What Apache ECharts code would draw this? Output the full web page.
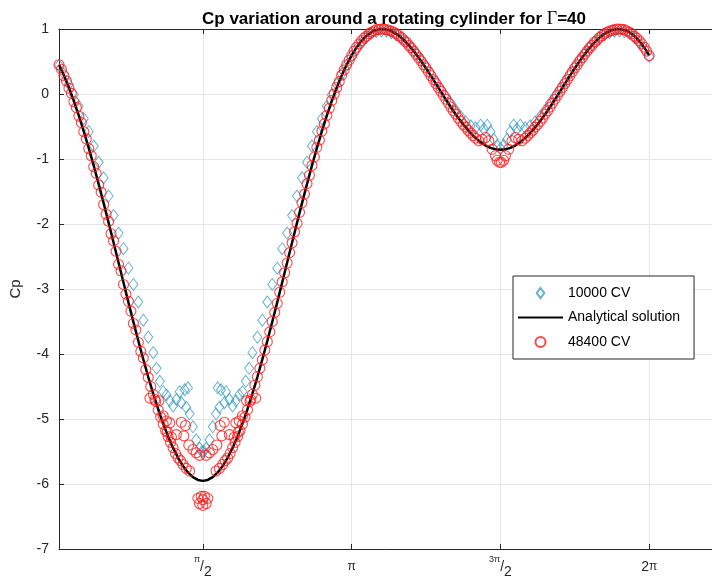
<!DOCTYPE html>
<html><head><meta charset="utf-8">
<script src="https://cdn.jsdelivr.net/npm/echarts@6/dist/echarts.min.js"></script>
<style>html,body{margin:0;padding:0;background:#fff}#c{width:712px;height:584px}</style>
</head><body><div id="c"></div>
<script>
// x values are angles in degrees; ticks are labelled in multiples of pi
const xTickValues = [90, 180, 270, 360];
const xTickLabels = ['{s|π}{n|/}{b|2}', '{p|π}', '{s|3π}{n|/}{b|2}', '{q|2}{p|π}'];

// Analytical solution (theta in degrees, Cp)
const lineTheta = [3,6,9,12,15,18,21,24,27,30,33,36,39,42,45,48,51,54,57,60,63,66,69,72,75,78,81,84,87,90,
93,96,99,102,105,108,111,114,117,120,123,126,129,132,135,138,141,144,147,150,153,156,159,162,165,168,171,174,177,180,
183,186,189,192,195,198,201,204,207,210,213,216,219,222,225,228,231,234,237,240,243,246,249,252,255,258,261,264,267,270,
273,276,279,282,285,288,291,294,297,300,303,306,309,312,315,318,321,324,327,330,333,336,339,342,345,348,351,354,357,360];
const lineCp = [0.4505,0.2849,0.0985,-0.1076,-0.3323,-0.5741,-0.8315,-1.1027,-1.3857,-1.6785,-1.9787,-2.2840,-2.5919,-2.9001,-3.2059,-3.5066,-3.8000,-4.0834,-4.3543,-4.6106,-4.8497,-5.0698,-5.2688,-5.4451,-5.5970,-5.7231,-5.8224,-5.8940,-5.9372,-5.9517,
-5.9372,-5.8940,-5.8224,-5.7231,-5.5970,-5.4451,-5.2688,-5.0698,-4.8497,-4.6106,-4.3543,-4.0834,-3.8000,-3.5066,-3.2059,-2.9001,-2.5919,-2.2840,-1.9787,-1.6785,-1.3857,-1.1027,-0.8315,-0.5741,-0.3323,-0.1076,0.0985,0.2849,0.4505,0.5947,
0.7171,0.8172,0.8952,0.9513,0.9858,0.9997,0.9936,0.9687,0.9264,0.8679,0.7951,0.7095,0.6131,0.5077,0.3953,0.2780,0.1578,0.0368,-0.0831,-0.2000,-0.3120,-0.4173,-0.5143,-0.6015,-0.6777,-0.7406,-0.7923,-0.8291,-0.8514,-0.8589,
-0.8514,-0.8291,-0.7923,-0.7406,-0.6777,-0.6015,-0.5143,-0.4173,-0.3120,-0.2000,-0.0831,0.0368,0.1578,0.2780,0.3953,0.5077,0.6131,0.7095,0.7951,0.8679,0.9264,0.9687,0.9936,0.9997,0.9858,0.9513,0.8952,0.8172,0.7171,0.5947];

// 10000 CV results [theta deg, Cp]
const cv10000 = [
[3,0.44],[6,0.31],[9,0.15],[12,-0.01],[15,-0.19],[18,-0.38],[21,-0.58],[24,-0.80],[27,-1.05],[30,-1.29],
[33,-1.57],[36,-1.87],[39,-2.14],[42,-2.38],[45,-2.68],[48,-2.93],[51,-3.20],[54,-3.48],[57,-3.74],[60,-3.98],
[62,-4.22],[64,-4.42],[66,-4.58],[68,-4.63],[70,-4.72],[72,-4.80],[74,-4.70],[76,-4.58],[77,-4.75],[79,-4.55],
[80,-4.82],[81,-4.52],[82,-4.92],[84,-5.12],[86,-5.32],[88,-5.45],[89.5,-5.50],[90.5,-5.50],[92,-5.45],[94,-5.32],
[96,-5.12],[98,-4.92],[99,-4.52],[100,-4.82],[101,-4.55],[103,-4.75],[104,-4.58],[106,-4.70],[108,-4.80],[110,-4.72],
[112,-4.63],[114,-4.58],[116,-4.42],[118,-4.22],[120,-3.98],[123,-3.74],[126,-3.48],[129,-3.20],[132,-2.93],[135,-2.68],
[138,-2.38],[141,-2.14],[144,-1.87],[147,-1.57],[150,-1.29],[153,-1.05],[156,-0.80],[159,-0.58],[162,-0.38],[165,-0.19],
[168,-0.01],[171,0.15],[174,0.31],[177,0.44],[180,0.58],
[183,0.69],[186,0.79],[189,0.87],[192,0.93],[195,0.96],[198,0.97],[201,0.965],[204,0.945],[207,0.91],[210,0.86],
[213,0.80],[216,0.72],[219,0.63],[222,0.53],[225,0.42],[228,0.31],[231,0.19],[234,0.08],[237,-0.03],[240,-0.14],
[243,-0.25],[246,-0.35],[249,-0.43],[252,-0.49],[255,-0.52],[258,-0.48],[260,-0.54],[262,-0.48],[264,-0.58],[266,-0.70],
[268,-0.79],[270,-0.84],[272,-0.79],[274,-0.70],[276,-0.58],[278,-0.48],[280,-0.54],[282,-0.48],[285,-0.52],[288,-0.49],
[291,-0.43],[294,-0.35],[297,-0.25],[300,-0.14],[303,-0.03],[306,0.08],[309,0.19],[312,0.31],[315,0.42],[318,0.53],
[321,0.63],[324,0.72],[327,0.80],[330,0.86],[333,0.91],[336,0.945],[339,0.965],[342,0.97],[345,0.96],[348,0.93],
[351,0.87],[354,0.79],[357,0.69],[360,0.58]];

// 48400 CV results [theta deg, Cp]
const cv48400 = [
[3,0.45],[4.5,0.38],[6,0.28],[7.5,0.20],[9,0.09],[10.5,0.01],[12,-0.12],[13.5,-0.21],[15,-0.34],[16.5,-0.44],
[18,-0.58],[19.5,-0.69],[21,-0.84],[22.5,-0.95],[24,-1.12],[25.5,-1.22],[27,-1.40],[28.5,-1.51],[30,-1.70],[31.5,-1.85],
[33,-1.96],[34.5,-2.15],[36,-2.26],[37.5,-2.42],[39,-2.62],[40.5,-2.72],[42,-2.93],[43.5,-3.08],[45,-3.19],[46.5,-3.34],
[48,-3.53],[49.5,-3.63],[51,-3.82],[52.5,-3.96],[54,-4.06],[55.5,-4.24],[57,-4.36],[58.5,-4.50],
[60,-4.62],[61.5,-4.73],[63,-4.86],[64.5,-4.97],[66,-5.08],[67.5,-5.18],[69,-5.27],[70.5,-5.36],[72,-5.44],[73.5,-5.53],
[75,-5.60],[76.5,-5.64],[78,-5.70],[80,-5.76],[82,-5.80],
[58,-4.68],[61,-4.70],[63.5,-4.72],[66,-4.95],[68,-5.03],[70,-5.06],[68.5,-5.20],[71,-5.28],[74,-5.24],[77,-5.05],
[79.5,-5.10],[78.5,-5.26],[81.5,-5.40],[84,-5.47],[86,-5.52],[88,-5.56],
[87,-6.22],[89,-6.19],[91,-6.19],[93,-6.22],[88,-6.30],[90,-6.33],[92,-6.30],[90,-6.24],
[92,-5.56],[94,-5.52],[96,-5.47],[98.5,-5.40],[101.5,-5.26],[100.5,-5.10],[103,-5.05],[106,-5.24],[109,-5.28],[111.5,-5.20],
[110,-5.06],[112,-5.03],[114,-4.95],[116.5,-4.72],[119,-4.70],[122,-4.68],
[98,-5.80],[100,-5.76],[102,-5.70],[103.5,-5.64],[105,-5.60],[106.5,-5.53],[108,-5.44],[109.5,-5.36],[111,-5.27],[112.5,-5.18],
[114,-5.08],[115.5,-4.97],[117,-4.86],[118.5,-4.73],[120,-4.62],
[121.5,-4.48],[123,-4.35],[124.5,-4.22],[126,-4.09],[127.5,-3.94],[129,-3.81],[130.5,-3.66],[132,-3.50],[133.5,-3.36],[135,-3.22],
[136.5,-3.05],[138,-2.89],[139.5,-2.75],[141,-2.60],[142.5,-2.44],[144,-2.29],[145.5,-2.12],[147,-1.99],[148.5,-1.82],[150,-1.67],
[151.5,-1.54],[153,-1.38],[154.5,-1.25],[156,-1.10],[157.5,-0.97],[159,-0.82],[160.5,-0.71],[162,-0.57],[163.5,-0.46],[165,-0.33],
[166.5,-0.22],[168,-0.10],[169.5,0.00],[171,0.10],[172.5,0.19],[174,0.29],[175.5,0.37],[177,0.45],
[178.5,0.52],[180,0.59],[181.5,0.66],[183,0.72],[184.5,0.77],[186,0.82],[187.5,0.86],[189,0.89],[190.5,0.93],[192,0.95],
[193.5,0.97],[195,0.99],[196.5,0.995],[198,1.00],[199.5,1.00],[201,0.99],[202.5,0.98],[204,0.97],[205.5,0.95],[207,0.93],
[208.5,0.90],[210,0.87],[211.5,0.83],[213,0.80],[214.5,0.75],[216,0.71],[217.5,0.66],[219,0.61],[220.5,0.56],[222,0.51],
[223.5,0.45],[225,0.40],[226.5,0.34],[228,0.28],[229.5,0.22],[231,0.16],[232.5,0.10],[234,0.04],[235.5,-0.02],[237,-0.08],
[238.5,-0.14],[240,-0.20],[241.5,-0.26],[243,-0.31],[244.5,-0.37],[246,-0.42],[247.5,-0.47],[249,-0.51],[250.5,-0.56],[252,-0.60],
[253.5,-0.64],[255,-0.68],[257,-0.72],[259,-0.70],[261,-0.67],[263,-0.72],[265,-0.85],[267,-0.95],[268,-1.02],[269.5,-1.05],
[270.5,-1.05],[272,-1.02],[273,-0.95],[275,-0.85],[277,-0.72],[279,-0.67],[281,-0.70],[283,-0.72],[285,-0.68],[286.5,-0.64],
[288,-0.60],[289.5,-0.56],[291,-0.51],[292.5,-0.47],[294,-0.42],[295.5,-0.37],[297,-0.31],[298.5,-0.26],[300,-0.20],[301.5,-0.14],
[303,-0.08],[304.5,-0.02],[306,0.04],[307.5,0.10],[309,0.16],[310.5,0.22],[312,0.28],[313.5,0.34],[315,0.40],[316.5,0.45],
[318,0.51],[319.5,0.56],[321,0.61],[322.5,0.66],[324,0.71],[325.5,0.75],[327,0.80],[328.5,0.83],[330,0.87],[331.5,0.90],
[333,0.93],[334.5,0.95],[336,0.97],[337.5,0.98],[339,0.99],[340.5,1.00],[342,1.00],[343.5,0.995],[345,0.99],[346.5,0.97],
[348,0.95],[349.5,0.93],[351,0.89],[352.5,0.86],[354,0.82],[355.5,0.77],[357,0.72],[358.5,0.66],[360,0.59]];

const seriesNames = ['10000 CV', 'Analytical solution', '48400 CV'];

const axisColor = '#262626';
const gridColor = '#e6e6e6';
const fontFam = 'Liberation Sans, Arial, sans-serif';
const diamondPath = 'path://M0,-6 L4.5,0 L0,6 L-4.5,0 Z';

const chart = echarts.init(document.getElementById('c'), null, {renderer: 'canvas'});
const lineData = lineTheta.map((t, i) => [t, lineCp[i]]);

chart.setOption({
  animation: false,
  backgroundColor: '#fff',
  title: {
    text: 'Cp variation around a rotating cylinder for {g|Γ}=40',
    left: 389, top: 5, textAlign: 'center',
    textStyle: {
      fontFamily: fontFam, fontSize: 17, fontWeight: 'bold', color: '#000',
      rich: { g: { fontFamily: 'Liberation Serif, Times New Roman, serif', fontSize: 18, fontWeight: 'normal', color: '#000' } }
    }
  },
  grid: { left: 56, right: 0, top: 29, bottom: 35, containLabel: false },
  legend: {
    orient: 'vertical', left: 513, top: 276,
    data: [
      { name: seriesNames[0], icon: diamondPath },
      { name: seriesNames[1], itemStyle: { color: 'rgba(0,0,0,0)', borderColor: 'rgba(0,0,0,0)', borderWidth: 0 } },
      { name: seriesNames[2] }
    ],
    symbolKeepAspect: true,
    itemWidth: 45, itemHeight: 10, itemGap: 8.5,
    padding: [9, 14, 9, 4],
    borderColor: '#262626', borderWidth: 1, backgroundColor: '#fff',
    textStyle: { fontFamily: fontFam, fontSize: 14, lineHeight: 16, color: '#000' }
  },
  xAxis: [{
    type: 'value', min: 3, max: 398,
    axisLine: { show: true, onZero: false, lineStyle: { color: axisColor, width: 1 } },
    axisTick: { show: true, inside: true, length: 5, customValues: xTickValues, lineStyle: { color: axisColor } },
    axisLabel: {
      customValues: xTickValues, margin: 6, color: axisColor,
      formatter: v => xTickLabels[xTickValues.indexOf(v)] || '',
      rich: {
        s: { fontFamily: fontFam, fontSize: 9, lineHeight: 10, verticalAlign: 'top', color: axisColor },
        n: { fontFamily: fontFam, fontSize: 14, lineHeight: 24, verticalAlign: 'middle', color: axisColor },
        b: { fontFamily: fontFam, fontSize: 14, lineHeight: 12, verticalAlign: 'bottom', color: axisColor },
        p: { fontFamily: fontFam, fontSize: 12, lineHeight: 24, verticalAlign: 'middle', color: axisColor },
        q: { fontFamily: fontFam, fontSize: 14, lineHeight: 24, verticalAlign: 'middle', color: axisColor }
      }
    },
    splitLine: { show: true, lineStyle: { color: gridColor, width: 1 } }
  }, {
    type: 'value', position: 'top', min: 3, max: 398,
    axisLine: { show: true, onZero: false, lineStyle: { color: axisColor, width: 1 } },
    axisTick: { show: true, inside: true, length: 5, customValues: xTickValues, lineStyle: { color: axisColor } },
    axisLabel: { show: false },
    splitLine: { show: false }
  }],
  yAxis: {
    type: 'value', min: -7, max: 1, interval: 1,
    name: 'Cp', nameLocation: 'middle', nameGap: 36, nameRotate: 90,
    nameTextStyle: { fontFamily: fontFam, fontSize: 15, color: axisColor },
    axisLine: { show: true, onZero: false, lineStyle: { color: axisColor, width: 1 } },
    axisTick: { show: true, inside: true, length: 5, lineStyle: { color: axisColor } },
    axisLabel: { fontFamily: fontFam, fontSize: 14, color: axisColor, margin: 10 },
    splitLine: { show: true, lineStyle: { color: gridColor, width: 1 } }
  },
  series: [{
    name: seriesNames[0], type: 'scatter', data: cv10000, z: 2, clip: false, silent: true,
    symbol: 'diamond', symbolSize: [9, 12],
    itemStyle: { color: 'rgba(0,0,0,0)', borderColor: '#3d9cc4', borderWidth: 1 }
  }, {
    name: seriesNames[1], type: 'line', data: lineData, z: 3, silent: true,
    symbol: 'none', showSymbol: false,
    lineStyle: { color: '#000', width: 2.5 }, itemStyle: { color: '#000' }
  }, {
    name: seriesNames[2], type: 'scatter', data: cv48400, z: 4, clip: false, silent: true,
    symbol: 'circle', symbolSize: 10,
    itemStyle: { color: 'rgba(0,0,0,0)', borderColor: '#ff1a1a', borderWidth: 1.1 }
  }]
});
</script></body></html>
